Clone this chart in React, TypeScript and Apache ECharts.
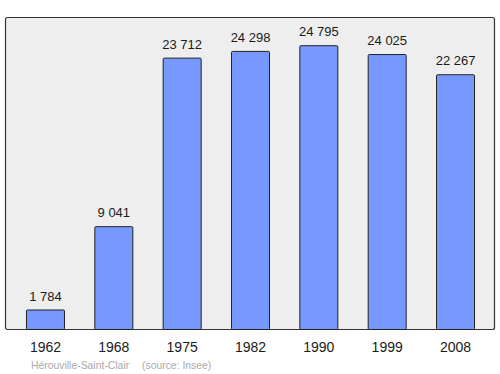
import React, { useEffect, useRef } from "react";
import * as echarts from "echarts";

const years = ["1962", "1968", "1975", "1982", "1990", "1999", "2008"];
const population = [1784, 9041, 23712, 24298, 24795, 24025, 22267];
const townName = "Hérouville-Saint-Clair";
const sourceText = "(source: Insee)";

const fmt = (v: number) => String(v).replace(/\B(?=(\d{3})+(?!\d))/g, " ");

export default function App() {
  const ref = useRef<HTMLDivElement>(null);
  useEffect(() => {
    if (!ref.current) return;
    const chart = echarts.init(ref.current, undefined, { renderer: "svg" });
    chart.setOption({
      animation: false,
      grid: { left: 11.3, right: 10.3, top: 17, bottom: 44 },
      graphic: [
        {
          type: "rect",
          z: -10,
          shape: { x: 5.5, y: 17.5, width: 489, height: 312, r: 2 },
          style: { fill: "#eeeeee", stroke: "#333333", lineWidth: 1.2 },
        },
        {
          type: "text",
          x: 31,
          y: 360,
          style: { text: townName, fill: "#aaaaaa", fontSize: 10.4, fontFamily: "Liberation Sans, Arial, sans-serif" },
        },
        {
          type: "text",
          x: 142,
          y: 360,
          style: { text: sourceText, fill: "#aaaaaa", fontSize: 10.4, fontFamily: "Liberation Sans, Arial, sans-serif" },
        },
      ],
      xAxis: {
        type: "category",
        data: years,
        axisLine: { show: false },
        axisTick: { show: false },
        axisLabel: { fontSize: 14, color: "#1a1a1a", margin: 10, fontFamily: "Liberation Sans, Arial, sans-serif" },
      },
      yAxis: {
        type: "value",
        min: 0,
        max: 27250,
        show: false,
        splitLine: { show: false },
      },
      series: [
        {
          type: "bar",
          data: population,
          barWidth: 39,
          z: 2,
          itemStyle: { color: "#7799ff", borderColor: "#222222", borderWidth: 1, borderRadius: 1 },
          label: {
            show: true,
            position: "top",
            distance: 7,
            fontSize: 13,
            color: "#1a1a1a",
            fontFamily: "Liberation Sans, Arial, sans-serif",
            formatter: (p: any) => fmt(p.value),
          },
        },
      ],
    });
    return () => chart.dispose();
  }, []);
  return <div ref={ref} style={{ width: 500, height: 374, position: "absolute", left: 0, top: 0 }} />;
}
